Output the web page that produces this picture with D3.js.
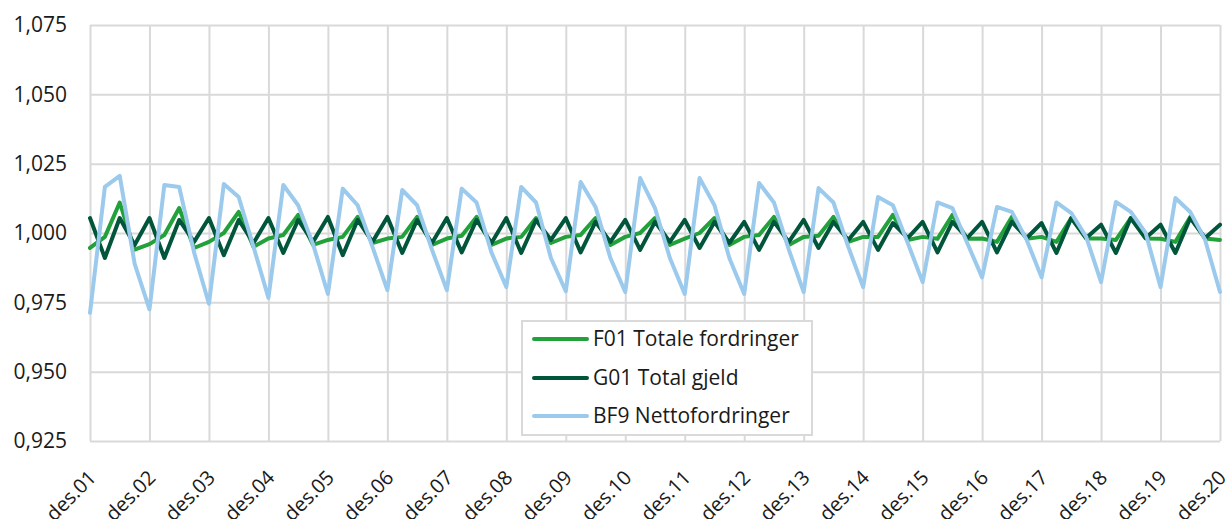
<!DOCTYPE html>
<html>
<head>
<meta charset="utf-8">
<script src="https://cdn.jsdelivr.net/npm/d3@7"></script>
<style>
  html, body { margin: 0; padding: 0; background: #fff; }
  svg { display: block; font-family: "Open Sans", "Noto Sans", sans-serif; }
</style>
</head>
<body>
<svg id="chart" width="1227" height="519"></svg>
<script>
const categories = [
  "des.01",
  "mar.02","jun.02","sep.02","des.02",
  "mar.03","jun.03","sep.03","des.03",
  "mar.04","jun.04","sep.04","des.04",
  "mar.05","jun.05","sep.05","des.05",
  "mar.06","jun.06","sep.06","des.06",
  "mar.07","jun.07","sep.07","des.07",
  "mar.08","jun.08","sep.08","des.08",
  "mar.09","jun.09","sep.09","des.09",
  "mar.10","jun.10","sep.10","des.10",
  "mar.11","jun.11","sep.11","des.11",
  "mar.12","jun.12","sep.12","des.12",
  "mar.13","jun.13","sep.13","des.13",
  "mar.14","jun.14","sep.14","des.14",
  "mar.15","jun.15","sep.15","des.15",
  "mar.16","jun.16","sep.16","des.16",
  "mar.17","jun.17","sep.17","des.17",
  "mar.18","jun.18","sep.18","des.18",
  "mar.19","jun.19","sep.19","des.19",
  "mar.20","jun.20","sep.20","des.20"
];

const xTickLabels = ["des.01","des.02","des.03","des.04","des.05","des.06","des.07","des.08","des.09","des.10",
                     "des.11","des.12","des.13","des.14","des.15","des.16","des.17","des.18","des.19","des.20"];

const yTicks = [0.925, 0.950, 0.975, 1.000, 1.025, 1.050, 1.075];
const yTickLabels = ["0,925", "0,950", "0,975", "1,000", "1,025", "1,050", "1,075"];

const seriesNames = ["F01 Totale fordringer", "G01 Total gjeld", "BF9 Nettofordringer"];

const f01 = [
  0.9946,
  0.9986, 1.0110, 0.9940, 0.9960,
  0.9993, 1.0090, 0.9946, 0.9968,
  1.0000, 1.0076, 0.9950, 0.9980,
  0.9993, 1.0065, 0.9957, 0.9975,
  0.9986, 1.0058, 0.9964, 0.9980,
  0.9986, 1.0058, 0.9957, 0.9980,
  0.9990, 1.0058, 0.9957, 0.9980,
  0.9986, 1.0054, 0.9964, 0.9986,
  0.9993, 1.0054, 0.9957, 0.9986,
  1.0000, 1.0054, 0.9957, 0.9980,
  1.0000, 1.0054, 0.9957, 0.9986,
  0.9993, 1.0058, 0.9957, 0.9986,
  0.9990, 1.0058, 0.9968, 0.9986,
  0.9986, 1.0065, 0.9975, 0.9986,
  0.9979, 1.0065, 0.9979, 0.9980,
  0.9968, 1.0058, 0.9979, 0.9986,
  0.9968, 1.0054, 0.9980, 0.9980,
  0.9975, 1.0054, 0.9980, 0.9979,
  0.9968, 1.0058, 0.9980, 0.9975
];

const g01 = [
  1.0054,
  0.9910, 1.0054, 0.9957, 1.0054,
  0.9910, 1.0047, 0.9968, 1.0054,
  0.9920, 1.0047, 0.9964, 1.0054,
  0.9928, 1.0047, 0.9968, 1.0058,
  0.9920, 1.0047, 0.9968, 1.0058,
  0.9928, 1.0047, 0.9964, 1.0054,
  0.9930, 1.0047, 0.9964, 1.0054,
  0.9928, 1.0047, 0.9975, 1.0054,
  0.9930, 1.0040, 0.9968, 1.0047,
  0.9939, 1.0040, 0.9968, 1.0047,
  0.9946, 1.0040, 0.9964, 1.0040,
  0.9939, 1.0040, 0.9968, 1.0047,
  0.9946, 1.0040, 0.9975, 1.0040,
  0.9939, 1.0036, 0.9982, 1.0040,
  0.9930, 1.0040, 0.9982, 1.0040,
  0.9930, 1.0040, 0.9982, 1.0036,
  0.9928, 1.0054, 0.9982, 1.0030,
  0.9928, 1.0054, 0.9982, 1.0030,
  0.9928, 1.0054, 0.9982, 1.0030
];

const bf9 = [
  0.9712,
  1.0166, 1.0206, 0.9890, 0.9725,
  1.0173, 1.0166, 0.9930, 0.9745,
  1.0177, 1.0130, 0.9950, 0.9766,
  1.0173, 1.0100, 0.9960, 0.9780,
  1.0160, 1.0100, 0.9950, 0.9794,
  1.0155, 1.0100, 0.9940, 0.9794,
  1.0160, 1.0110, 0.9930, 0.9805,
  1.0166, 1.0110, 0.9910, 0.9790,
  1.0184, 1.0094, 0.9910, 0.9787,
  1.0198, 1.0090, 0.9910, 0.9780,
  1.0198, 1.0100, 0.9910, 0.9780,
  1.0180, 1.0110, 0.9940, 0.9787,
  1.0162, 1.0110, 0.9950, 0.9805,
  1.0130, 1.0100, 0.9964, 0.9823,
  1.0110, 1.0090, 0.9964, 0.9840,
  1.0094, 1.0076, 0.9975, 0.9840,
  1.0110, 1.0072, 0.9986, 0.9823,
  1.0112, 1.0076, 1.0000, 0.9805,
  1.0126, 1.0076, 0.9975, 0.9787
];

const colors = ["#22a03a", "#00553b", "#9bcaed"];

(function () {
const svg = d3.select("#chart");
const mLeft = 90, mRight = 1220, mTop = 25, mBottom = 441;

const x = d3.scalePoint().domain(categories).range([mLeft, mRight]);
const y = d3.scaleLinear().domain([0.925, 1.075]).range([mBottom, mTop]);

const gridColor = "#d9d9d9";

// horizontal gridlines + y labels
const yAxis = d3.axisLeft(y).tickValues(yTicks).tickSize(-(mRight - mLeft)).tickPadding(23)
  .tickFormat((d, i) => yTickLabels[i]);
const gy = svg.append("g").attr("transform", `translate(${mLeft},0)`).call(yAxis);
gy.select(".domain").remove();
gy.selectAll(".tick line").attr("stroke", gridColor).attr("stroke-width", 2);
gy.selectAll(".tick text").attr("fill", "#1a1a1a").attr("font-size", "21px")
  .attr("font-family", "'Open Sans', sans-serif");

// vertical gridlines + x labels
const xAxis = d3.axisBottom(x).tickValues(xTickLabels).tickSize(-(mBottom - mTop)).tickFormat(d => d);
const gx = svg.append("g").attr("transform", `translate(0,${mBottom})`).call(xAxis);
gx.select(".domain").remove();
gx.selectAll(".tick line").attr("stroke", gridColor).attr("stroke-width", 2);
gx.selectAll(".tick text")
  .attr("fill", "#1a1a1a").attr("font-size", "20px")
  .attr("font-family", "'Open Sans', sans-serif")
  .attr("text-anchor", "end")
  .attr("dy", "0.35em")
  .attr("y", 0)
  .attr("transform", "translate(2,33) rotate(-45)");

// lines
const series = [f01, g01, bf9];
const line = d3.line().x((d, i) => x(categories[i])).y(d => y(d));
series.forEach((s, k) => {
  svg.append("path").datum(s)
    .attr("fill", "none")
    .attr("stroke", colors[k])
    .attr("stroke-width", 4)
    .attr("stroke-linejoin", "round")
    .attr("stroke-linecap", "round")
    .attr("d", line);
});

// legend
const lg = svg.append("g");
lg.append("rect").attr("x", 522).attr("y", 321).attr("width", 290).attr("height", 114)
  .attr("fill", "#fff").attr("stroke", gridColor).attr("stroke-width", 2);
const rowY = [339, 378, 416];
seriesNames.forEach((name, k) => {
  lg.append("line").attr("x1", 534).attr("x2", 587).attr("y1", rowY[k]).attr("y2", rowY[k])
    .attr("stroke", colors[k]).attr("stroke-width", 4).attr("stroke-linecap", "round");
  lg.append("text").attr("x", 593).attr("y", rowY[k]).attr("dy", "0.35em")
    .attr("font-size", "21px").attr("fill", "#1a1a1a").text(name);
});
})();
</script>
</body>
</html>
